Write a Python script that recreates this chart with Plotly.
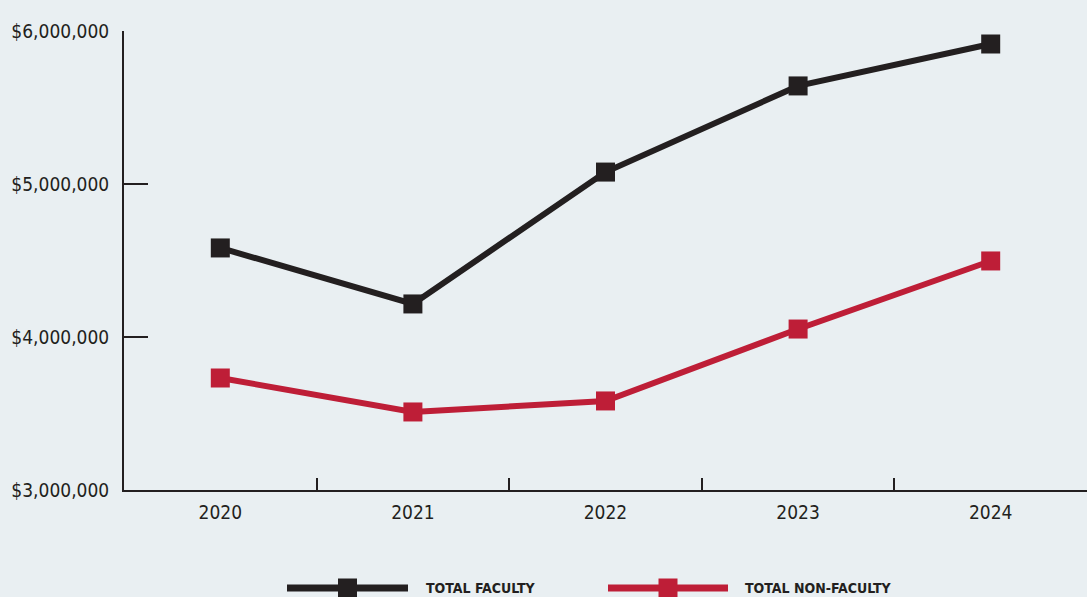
import plotly.graph_objects as go

# ---- data ----
years = ["2020", "2021", "2022", "2023", "2024"]
total_faculty = [4582000, 4216000, 5078000, 5641000, 5915000]
total_non_faculty = [3732000, 3510000, 3582000, 4052000, 4497000]
y_ticks = [3000000, 4000000, 5000000, 6000000]
series_names = ["TOTAL FACULTY", "TOTAL NON-FACULTY"]

BLACK = "#231f20"
RED = "#be1e37"
BG = "#e9eff2"
FONT = "Liberation Sans Narrow, DejaVu Sans Condensed, sans-serif"

W, H = 1087, 597
ML, MR, MT, MB = 124, 0, 31, 107
PW, PH = W - ML - MR, H - MT - MB


def px_x(p):
    return (p - ML) / PW


def px_y(p):
    return (H - MB - p) / PH


fig = go.Figure()
for name, vals, col in [(series_names[0], total_faculty, BLACK),
                        (series_names[1], total_non_faculty, RED)]:
    fig.add_trace(go.Scatter(
        x=years, y=vals, name=name, mode="lines+markers",
        line=dict(color=col, width=6),
        marker=dict(symbol="square", size=19, color=col, line=dict(width=0)),
        cliponaxis=False, showlegend=False,
    ))

# custom legend (long line samples like the reference)
legend_items = [
    (series_names[0], BLACK, 287, 408, 424),
    (series_names[1], RED, 608, 728, 743),
]
ly = px_y(588)
for name, col, x0, x1, tx in legend_items:
    fig.add_shape(type="line", xref="paper", yref="paper",
                  x0=px_x(x0), x1=px_x(x1), y0=ly, y1=ly,
                  line=dict(color=col, width=7))
    cx = px_x((x0 + x1) / 2)
    fig.add_shape(type="rect", xref="paper", yref="paper",
                  xsizemode="pixel", ysizemode="pixel",
                  xanchor=cx, yanchor=ly, x0=-9.5, x1=9.5, y0=-9.5, y1=9.5,
                  fillcolor=col, line=dict(width=0))
    fig.add_annotation(x=px_x(tx), y=ly, xref="paper", yref="paper",
                       text="<b>" + name + "</b>", showarrow=False,
                       xanchor="left", yanchor="middle",
                       font=dict(family=FONT, size=14, color=BLACK))

fig.update_layout(
    width=W, height=H,
    margin=dict(l=ML, r=MR, t=MT, b=MB),
    paper_bgcolor=BG, plot_bgcolor=BG,
    font=dict(family=FONT, color=BLACK),
    xaxis=dict(
        type="category", range=[-0.5, 4.5], automargin=False,
        tickson="boundaries", ticks="inside", ticklen=12, tickwidth=2, tickcolor=BLACK,
        showline=True, linecolor=BLACK, linewidth=2,
        showgrid=False, zeroline=False,
        tickfont=dict(family=FONT, size=19, color=BLACK),
        ticklabelstandoff=4,
    ),
    yaxis=dict(
        range=[3000000, 6000000], tickvals=y_ticks, tickformat="$,.0f",
        automargin=False,
        ticks="inside", ticklen=24, tickwidth=1.5, tickcolor=BLACK,
        showline=True, linecolor=BLACK, linewidth=2,
        showgrid=False, zeroline=False,
        tickfont=dict(family=FONT, size=19, color=BLACK),
        ticklabelstandoff=9,
    ),
)

fig.write_html(
    "out.html",
    config={"displayModeBar": False},
    post_script="document.body.style.margin='0';document.body.style.overflow='hidden';",
)
